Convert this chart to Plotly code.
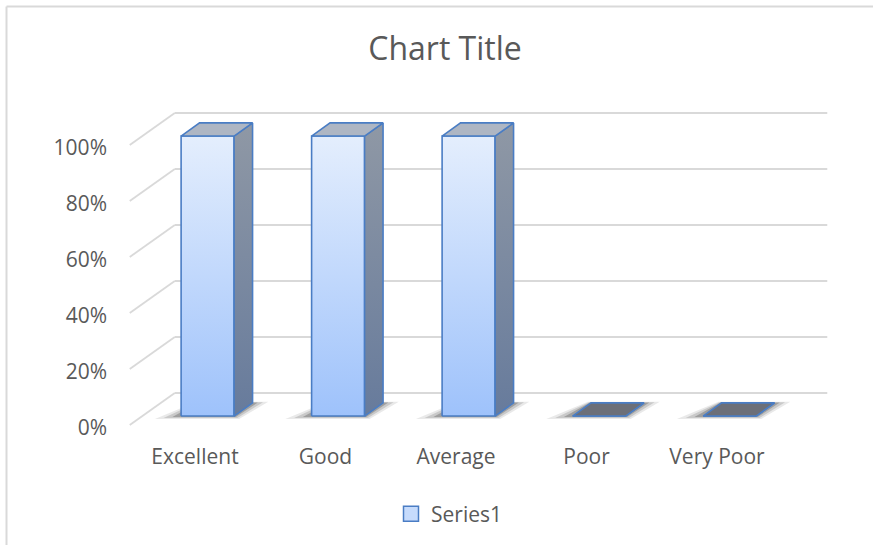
import plotly.graph_objects as go

# ---------------- data ----------------
categories = ["Excellent", "Good", "Average", "Poor", "Very Poor"]
series1 = [100, 100, 100, 0, 0]          # percent
y_ticks = [0, 20, 40, 60, 80, 100]
y_tick_labels = ["0%", "20%", "40%", "60%", "80%", "100%"]
series_name = "Series1"

# ---------------- pseudo-3D geometry (oblique projection) ----------------
DEPTH_DX = 0.345     # category units shift for full depth
DEPTH_DY = 11.43     # percent units shift for full depth
D_FRONT, D_BACK = 0.28, 0.69   # bar front/back depth inside the floor
HALF_W = 0.203                 # half width of a bar front face
X_LEFT, X_RIGHT = -0.5, len(categories) - 0.5

def proj(x, y, d):
    return x + d * DEPTH_DX, y + d * DEPTH_DY

def poly(points):
    xs, ys = [], []
    for (x, y, d) in points:
        px, py = proj(x, y, d)
        xs.append(px)
        ys.append(py)
    xs.append(xs[0]); ys.append(ys[0])
    return xs, ys

def join(polys):
    X, Y = [], []
    for xs, ys in polys:
        X += xs + [None]
        Y += ys + [None]
    return X, Y

fig = go.Figure()

GRID = "#D9D9D9"
TEXT = "#595959"
OUTLINE = "#4A7DC4"

# back wall gridlines + left wall diagonals
gx, gy = [], []
for t in y_ticks:
    for (a, b) in [((X_LEFT, t, 0), (X_LEFT, t, 1)), ((X_LEFT, t, 1), (X_RIGHT, t, 1))]:
        p1 = proj(*a); p2 = proj(*b)
        gx += [p1[0], p2[0], None]
        gy += [p1[1], p2[1], None]
fig.add_trace(go.Scatter(x=gx, y=gy, mode="lines", line=dict(color=GRID, width=1.8),
                         hoverinfo="skip", showlegend=False))

# soft shadows at the base of each bar
for e, op in [(0.12, 0.10), (0.08, 0.16), (0.04, 0.26)]:
    shadows = []
    for i, v in enumerate(series1):
        shadows.append(poly([(i - HALF_W - e * 1.4, 0, D_FRONT - e * 0.8),
                             (i + HALF_W + e * 0.6, 0, D_FRONT - e * 0.8),
                             (i + HALF_W + e * 0.9, 0, D_BACK + e * 0.3),
                             (i - HALF_W - e * 0.3, 0, D_BACK + e * 0.3)]))
    sx, sy = join(shadows)
    fig.add_trace(go.Scatter(x=sx, y=sy, mode="none", fill="toself",
                             fillcolor=f"rgba(40,40,40,{op})", hoverinfo="skip", showlegend=False))

# bar faces
fronts, sides, tops_lit, tops_dark = [], [], [], []
for i, v in enumerate(series1):
    x0, x1 = i - HALF_W, i + HALF_W
    fronts.append(poly([(x0, 0, D_FRONT), (x1, 0, D_FRONT), (x1, v, D_FRONT), (x0, v, D_FRONT)]))
    sides.append(poly([(x1, 0, D_FRONT), (x1, 0, D_BACK), (x1, v, D_BACK), (x1, v, D_FRONT)]))
    top = poly([(x0, v, D_FRONT), (x1, v, D_FRONT), (x1, v, D_BACK), (x0, v, D_BACK)])
    (tops_lit if v > 0 else tops_dark).append(top)

fx, fy = join(fronts)
fig.add_trace(go.Scatter(x=fx, y=fy, mode="lines", fill="toself",
                         fillgradient=dict(type="vertical",
                                           colorscale=[[0, "#9EC2FB"], [1, "#E4EEFD"]]),
                         line=dict(color=OUTLINE, width=1.6), hoverinfo="skip", showlegend=False))
sx, sy = join(sides)
fig.add_trace(go.Scatter(x=sx, y=sy, mode="lines", fill="toself",
                         fillgradient=dict(type="vertical",
                                           colorscale=[[0, "#677B9C"], [1, "#8F98A5"]]),
                         line=dict(color=OUTLINE, width=1.6), hoverinfo="skip", showlegend=False))
if tops_lit:
    tx, ty = join(tops_lit)
    fig.add_trace(go.Scatter(x=tx, y=ty, mode="lines", fill="toself", fillcolor="#AEB6C3",
                             line=dict(color=OUTLINE, width=1.6), hoverinfo="skip", showlegend=False))
if tops_dark:
    tx, ty = join(tops_dark)
    fig.add_trace(go.Scatter(x=tx, y=ty, mode="lines", fill="toself", fillcolor="#6C6F78",
                             line=dict(color=OUTLINE, width=1.6), hoverinfo="skip", showlegend=False))

# legend entry
fig.add_trace(go.Scatter(x=[None], y=[None], mode="markers", name=series_name,
                         marker=dict(symbol="square", size=15, color="#C6DBFC",
                                     line=dict(color=OUTLINE, width=1.5)),
                         showlegend=True))

# ---------------- layout ----------------
L, R, T, B = 108, 860, 90, 437
W, H = 873, 545
X0PX, XSCALE = 195.0, 130.5     # px of category 0 on front plane, px per category
Y0PX, YSCALE = 425.0, 2.8       # px of 0% on front plane, px per percent

xr = [(L - X0PX) / XSCALE, (R - X0PX) / XSCALE]
yr = [(Y0PX - B) / YSCALE, (Y0PX - T) / YSCALE]

def paper_x(px):
    return (px - L) / (R - L)

def paper_y(py):
    return (B - py) / (B - T)

FONT = "'Open Sans', Lato, sans-serif"

fig.update_layout(
    width=W, height=H,
    margin=dict(l=L, r=W - R, t=T, b=H - B),
    paper_bgcolor="white", plot_bgcolor="white",
    font=dict(family=FONT, color=TEXT, size=21),
    title=dict(text="Chart Title", x=(445 / W), xanchor="center", xref="container",
               y=(H - 49) / H, yanchor="middle", yref="container",
               font=dict(size=32, color=TEXT, family=FONT)),
    xaxis=dict(range=xr, showgrid=False, zeroline=False, showline=False,
               tickmode="array", tickvals=list(range(len(categories))), ticktext=categories,
               ticks="", ticklabelstandoff=5, tickfont=dict(size=21, color=TEXT)),
    yaxis=dict(range=yr, showgrid=False, zeroline=False, showline=False,
               tickmode="array", tickvals=y_ticks, ticktext=y_tick_labels,
               ticks="", ticklabelshift=3, tickfont=dict(size=21, color=TEXT)),
    showlegend=True,
    legend=dict(orientation="h", x=(449 / W), xanchor="center", xref="container",
                y=(H - 514) / H, yanchor="middle", yref="container",
                font=dict(size=21, color=TEXT), itemwidth=30, bgcolor="rgba(0,0,0,0)"),
    shapes=[
        dict(type="line", xref="paper", yref="paper", x0=paper_x(6.5), x1=paper_x(W),
             y0=paper_y(6.5), y1=paper_y(6.5), line=dict(color=GRID, width=2), layer="below"),
        dict(type="line", xref="paper", yref="paper", x0=paper_x(6.5), x1=paper_x(6.5),
             y0=paper_y(6.5), y1=paper_y(H), line=dict(color=GRID, width=2), layer="below"),
    ],
)

fig.write_html("out.html", config={"displayModeBar": False},
               post_script="document.body.style.margin='0';")
